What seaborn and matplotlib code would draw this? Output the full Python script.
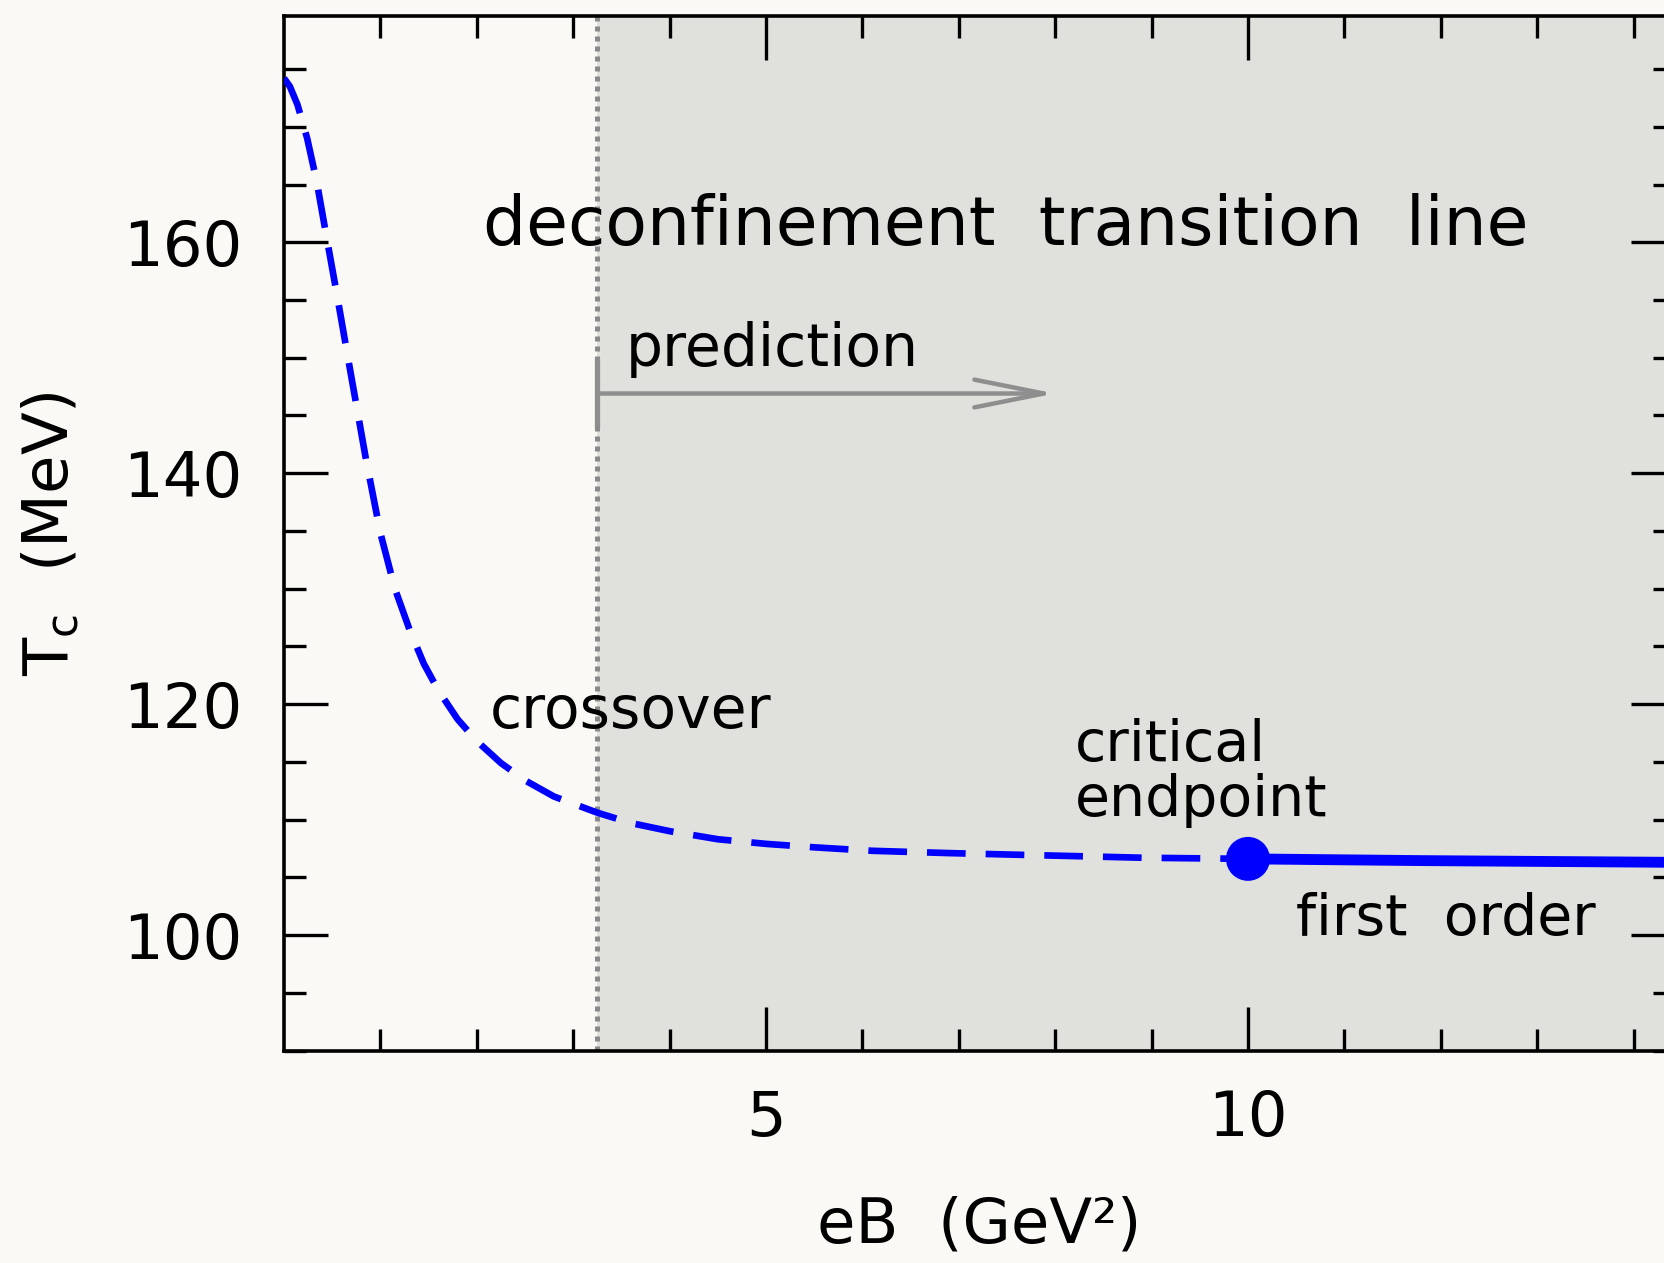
import numpy as np
import pandas as pd
import seaborn as sns
import matplotlib
matplotlib.use("Agg")
import matplotlib.pyplot as plt

# ---- data ----
eB_crossover = [0.0, 0.06, 0.14, 0.24, 0.34, 0.44, 0.55, 0.68, 0.85, 1.00, 1.15,
                1.30, 1.45, 1.60, 1.80, 2.00, 2.25, 2.50, 2.80, 3.25, 3.60, 4.00,
                4.50, 5.00, 5.50, 6.10, 6.90, 7.90, 8.90, 10.0]
Tc_crossover = [174.2, 173.5, 171.9, 169.0, 165.2, 160.5, 155.4, 149.2, 141.2, 134.8, 130.0,
                126.5, 123.5, 121.2, 118.7, 116.8, 114.9, 113.4, 112.0, 110.6, 109.7, 109.0,
                108.3, 107.9, 107.6, 107.3, 107.1, 106.9, 106.7, 106.6]
eB_first = [10.0, 11.8, 14.43]
Tc_first = [106.6, 106.45, 106.3]
eB_endpoint = [10.0]
Tc_endpoint = [106.6]
eB_prediction = 3.25
prediction_arrow_end = 8.0
prediction_T = 146.9

xtick_major = [5, 10]
ytick_major = [100, 120, 140, 160]

sns.set_theme(style="ticks")
plt.rcParams["font.family"] = ["DejaVu Sans"]
plt.rcParams["mathtext.default"] = "regular"
plt.rcParams["text.color"] = "black"
plt.rcParams["axes.labelcolor"] = "black"
plt.rcParams["xtick.color"] = "black"
plt.rcParams["ytick.color"] = "black"

BG = "#faf9f5"
GRAY_REGION = "#e0e0dd"
BLUE = "#0000ff"
ARROW_GRAY = "#8e8e8e"

fig = plt.figure(figsize=(16.64, 12.63), dpi=100, facecolor=BG)
ax = fig.add_axes([0.1707, 0.1682, 0.8359, 0.8192])
ax.set_facecolor(BG)

ax.set_xlim(0, 14.43)
ax.set_ylim(90, 179.6)

# shaded prediction region
ax.axvspan(eB_prediction, 14.43, color=GRAY_REGION, zorder=0, lw=0)
ax.axvline(eB_prediction, color="#8a8a8a", lw=3.6, linestyle=(0, (1, 1.0)), zorder=1)

df_c = pd.DataFrame({"eB": eB_crossover, "Tc": Tc_crossover})
df_f = pd.DataFrame({"eB": eB_first, "Tc": Tc_first})
sns.lineplot(data=df_c, x="eB", y="Tc", ax=ax, color=BLUE, lw=4.8,
             estimator=None, sort=False, zorder=3)
ax.lines[-1].set_dashes([5.8, 3.0])
ax.lines[-1].set_dash_capstyle("butt")
ax.lines[-1].set_solid_joinstyle("round")
sns.lineplot(data=df_f, x="eB", y="Tc", ax=ax, color=BLUE, lw=7.8,
             estimator=None, sort=False, zorder=3)
sns.scatterplot(x=eB_endpoint, y=Tc_endpoint, ax=ax, color=BLUE, s=1000,
                edgecolor="none", zorder=4)

# prediction arrow
ax.plot([eB_prediction, eB_prediction], [143.9, 150.0], color=ARROW_GRAY, lw=3.8,
        solid_capstyle="butt", zorder=2)
ax.annotate("", xy=(prediction_arrow_end, prediction_T), xytext=(eB_prediction, prediction_T),
            arrowprops=dict(arrowstyle="->,head_length=50,head_width=10",
                            mutation_scale=1, color=ARROW_GRAY, lw=3.2,
                            shrinkA=0, shrinkB=0), zorder=2)

# texts
ax.text(2.06, 159.8, "deconfinement  transition  line", fontsize=49,
        ha="left", va="baseline", color="black")
ax.text(3.54, 149.3, "prediction", fontsize=42, ha="left", va="baseline")
ax.text(2.13, 117.9, "crossover", fontsize=42, ha="left", va="baseline")
ax.text(8.2, 115.1, "critical", fontsize=41, ha="left", va="baseline")
ax.text(8.2, 110.3, "endpoint", fontsize=41, ha="left", va="baseline")
ax.text(10.5, 100.0, "first  order", fontsize=41, ha="left", va="baseline")

# ticks
ax.set_xticks(xtick_major)
ax.set_xticklabels([str(v) for v in xtick_major])
ax.set_xticks(np.arange(1, 15), minor=True)
ax.set_yticks(ytick_major)
ax.set_yticklabels([str(v) for v in ytick_major])
ax.set_yticks(np.arange(90, 180, 5), minor=True)
ax.tick_params(which="both", direction="in", top=True, right=True, colors="black",
               width=2.4)
ax.tick_params(which="major", length=32, labelsize=45)
ax.tick_params(axis="x", which="major", pad=28)
ax.tick_params(axis="y", which="major", pad=30)
ax.tick_params(which="minor", length=16)
for s in ax.spines.values():
    s.set_linewidth(2.6)
    s.set_color("black")
    s.set_visible(True)

ax.set_xlabel("eB  (GeV²)", fontsize=45)
ax.set_ylabel("T$_{c}$  (MeV)", fontsize=45)
ax.xaxis.label.set_va("center")
ax.yaxis.label.set_va("center")
ax.xaxis.set_label_coords(0.5, -0.169)
ax.yaxis.set_label_coords(-0.168, 0.5)

fig.savefig("out.png", dpi=100, facecolor=BG)
